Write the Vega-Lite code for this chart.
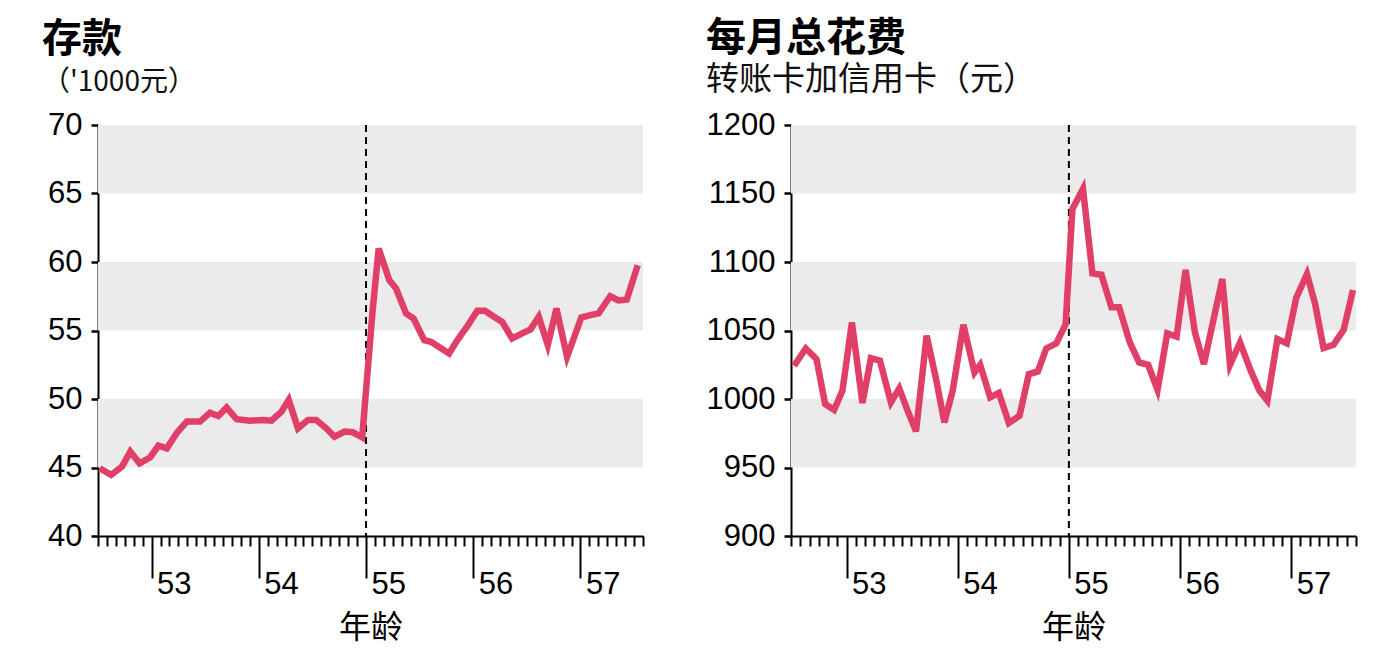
{
  "$schema": "https://vega.github.io/schema/vega-lite/v6.json",
  "background": "white",
  "padding": {"left": 42, "top": 19, "right": 5, "bottom": 5},
  "spacing": 55,
  "config": {
    "view": {"stroke": null},
    "font": "Liberation Sans",
    "axis": {
      "domainColor": "#000",
      "domainWidth": 2,
      "tickColor": "#000",
      "labelColor": "#000",
      "titleColor": "#000",
      "grid": false
    }
  },
  "datasets": {
    "savings": [
      {"age": 52.516, "value": 44.95}, {"age": 52.622, "value": 44.46}, {"age": 52.724, "value": 45.07},
      {"age": 52.801, "value": 46.16}, {"age": 52.888, "value": 45.31}, {"age": 52.987, "value": 45.75},
      {"age": 53.064, "value": 46.6}, {"age": 53.142, "value": 46.4}, {"age": 53.235, "value": 47.52},
      {"age": 53.328, "value": 48.35}, {"age": 53.452, "value": 48.35}, {"age": 53.545, "value": 49.0},
      {"age": 53.622, "value": 48.76}, {"age": 53.7, "value": 49.37}, {"age": 53.793, "value": 48.52},
      {"age": 53.916, "value": 48.42}, {"age": 54.04, "value": 48.47}, {"age": 54.118, "value": 48.42},
      {"age": 54.211, "value": 49.07}, {"age": 54.279, "value": 49.93}, {"age": 54.365, "value": 47.86},
      {"age": 54.458, "value": 48.47}, {"age": 54.536, "value": 48.47}, {"age": 54.629, "value": 47.86},
      {"age": 54.706, "value": 47.25}, {"age": 54.799, "value": 47.62}, {"age": 54.877, "value": 47.57},
      {"age": 54.964, "value": 47.2}, {"age": 55.062, "value": 56.5}, {"age": 55.118, "value": 60.98},
      {"age": 55.217, "value": 58.67}, {"age": 55.28, "value": 58.07}, {"age": 55.373, "value": 56.25},
      {"age": 55.443, "value": 55.88}, {"age": 55.543, "value": 54.3}, {"age": 55.605, "value": 54.18},
      {"age": 55.775, "value": 53.33}, {"age": 55.852, "value": 54.3}, {"age": 55.945, "value": 55.32},
      {"age": 56.038, "value": 56.44}, {"age": 56.109, "value": 56.44}, {"age": 56.193, "value": 56.0},
      {"age": 56.27, "value": 55.63}, {"age": 56.363, "value": 54.42}, {"age": 56.456, "value": 54.79},
      {"age": 56.534, "value": 55.08}, {"age": 56.611, "value": 56.0}, {"age": 56.695, "value": 53.94},
      {"age": 56.776, "value": 56.61}, {"age": 56.875, "value": 53.08}, {"age": 57.008, "value": 55.95},
      {"age": 57.092, "value": 56.12}, {"age": 57.169, "value": 56.25}, {"age": 57.278, "value": 57.5},
      {"age": 57.355, "value": 57.2}, {"age": 57.432, "value": 57.27}, {"age": 57.534, "value": 59.77}
    ],
    "spending": [
      {"age": 52.528, "value": 1024.3}, {"age": 52.633, "value": 1036.9}, {"age": 52.729, "value": 1029.2},
      {"age": 52.807, "value": 996.4}, {"age": 52.888, "value": 992.0}, {"age": 52.963, "value": 1006.1},
      {"age": 53.048, "value": 1055.9}, {"age": 53.143, "value": 997.1}, {"age": 53.219, "value": 1029.9},
      {"age": 53.3, "value": 1028.0}, {"age": 53.399, "value": 997.5}, {"age": 53.474, "value": 1007.7},
      {"age": 53.549, "value": 991.5}, {"age": 53.625, "value": 976.4}, {"age": 53.72, "value": 1046.2},
      {"age": 53.805, "value": 1014.6}, {"age": 53.88, "value": 982.9}, {"age": 53.955, "value": 1006.1},
      {"age": 54.051, "value": 1054.2}, {"age": 54.151, "value": 1019.4}, {"age": 54.202, "value": 1025.0},
      {"age": 54.292, "value": 1001.2}, {"age": 54.37, "value": 1004.4}, {"age": 54.46, "value": 982.5},
      {"age": 54.556, "value": 987.8}, {"age": 54.64, "value": 1018.2}, {"age": 54.721, "value": 1020.1},
      {"age": 54.797, "value": 1036.9}, {"age": 54.887, "value": 1040.6}, {"age": 54.971, "value": 1054.7},
      {"age": 55.032, "value": 1138.7}, {"age": 55.127, "value": 1153.3}, {"age": 55.212, "value": 1091.7},
      {"age": 55.293, "value": 1090.7}, {"age": 55.383, "value": 1066.9}, {"age": 55.452, "value": 1066.9},
      {"age": 55.548, "value": 1041.3}, {"age": 55.632, "value": 1026.7}, {"age": 55.713, "value": 1025.0},
      {"age": 55.798, "value": 1006.6}, {"age": 55.885, "value": 1047.9}, {"age": 55.969, "value": 1045.5},
      {"age": 56.05, "value": 1094.2}, {"age": 56.134, "value": 1048.6}, {"age": 56.215, "value": 1025.5},
      {"age": 56.299, "value": 1057.2}, {"age": 56.381, "value": 1087.6}, {"age": 56.45, "value": 1025.0},
      {"age": 56.54, "value": 1041.3}, {"age": 56.63, "value": 1021.9}, {"age": 56.714, "value": 1006.1},
      {"age": 56.786, "value": 998.8}, {"age": 56.876, "value": 1043.8}, {"age": 56.961, "value": 1040.6},
      {"age": 57.045, "value": 1073.7}, {"age": 57.142, "value": 1091.2}, {"age": 57.216, "value": 1069.3},
      {"age": 57.291, "value": 1037.2}, {"age": 57.381, "value": 1039.6}, {"age": 57.472, "value": 1050.4},
      {"age": 57.556, "value": 1079.6}
    ],
    "bandsL": [{"lo": 45, "hi": 50}, {"lo": 55, "hi": 60}, {"lo": 65, "hi": 70}],
    "bandsR": [{"lo": 950, "hi": 1000}, {"lo": 1050, "hi": 1100}, {"lo": 1150, "hi": 1200}],
    "retire": [{"age": 55}]
  },
  "hconcat": [
    {
      "title": {
        "text": "存款",
        "subtitle": "（'1000元）",
        "anchor": "start",
        "frame": "bounds",
        "font": "Noto Sans CJK SC",
        "fontSize": 40,
        "fontWeight": "bold",
        "color": "#000",
        "subtitleFont": "Noto Sans CJK SC",
        "subtitleFontSize": 28,
        "subtitleColor": "#111",
        "subtitlePadding": 9,
        "offset": 12
      },
      "width": 545,
      "height": 411,
      "layer": [
        {
          "data": {"name": "bandsL"},
          "mark": {"type": "rect", "color": "#ebebeb"},
          "encoding": {
            "y": {
              "field": "lo", "type": "quantitative",
              "scale": {"domain": [40, 70], "nice": false, "zero": false},
              "axis": {
                "title": null,
                "values": [40, 45, 50, 55, 60, 65, 70],
                "format": "d",
                "tickSize": 7,
                "tickWidth": 2.5,
                "labelFontSize": 31,
                "labelPadding": 9,
                "minExtent": 56
              }
            },
            "y2": {"field": "hi"}
          }
        },
        {
          "data": {"name": "retire"},
          "mark": {"type": "rule", "color": "#000", "strokeWidth": 2, "strokeDash": [7, 5]},
          "encoding": {
            "x": {
              "field": "age", "type": "quantitative",
              "scale": {"domain": [52.5, 57.5833], "nice": false, "zero": false},
              "axis": {
                "title": "年龄",
                "titleFont": "Noto Sans CJK SC",
                "titleFontSize": 32,
                "titleFontWeight": "normal",
                "titlePadding": 13,
                "values": [52.5, 52.5833, 52.6667, 52.75, 52.8333, 52.9167,
                  53, 53.0833, 53.1667, 53.25, 53.3333, 53.4167, 53.5, 53.5833, 53.6667, 53.75, 53.8333, 53.9167,
                  54, 54.0833, 54.1667, 54.25, 54.3333, 54.4167, 54.5, 54.5833, 54.6667, 54.75, 54.8333, 54.9167,
                  55, 55.0833, 55.1667, 55.25, 55.3333, 55.4167, 55.5, 55.5833, 55.6667, 55.75, 55.8333, 55.9167,
                  56, 56.0833, 56.1667, 56.25, 56.3333, 56.4167, 56.5, 56.5833, 56.6667, 56.75, 56.8333, 56.9167,
                  57, 57.0833, 57.1667, 57.25, 57.3333, 57.4167, 57.5, 57.5833],
                "tickSize": {"condition": {"test": "datum.value % 1 === 0", "value": 42}, "value": 10},
                "tickWidth": 2,
                "labelExpr": "datum.value % 1 === 0 ? format(datum.value, 'd') : ''",
                "labelFontSize": 31,
                "labelAlign": "left",
                "labelBaseline": "top",
                "labelOffset": 5,
                "labelPadding": -9,
                "labelOverlap": false,
                "labelBound": false,
                "labelFlush": false
              }
            }
          }
        },
        {
          "data": {"name": "savings"},
          "mark": {"type": "line", "color": "#e03f68", "strokeWidth": 6.5, "strokeJoin": "miter"},
          "encoding": {
            "x": {
              "field": "age", "type": "quantitative",
              "scale": {"domain": [52.5, 57.5833], "nice": false, "zero": false},
              "axis": {
                "title": "年龄",
                "titleFont": "Noto Sans CJK SC",
                "titleFontSize": 32,
                "titleFontWeight": "normal",
                "titlePadding": 13,
                "values": [52.5, 52.5833, 52.6667, 52.75, 52.8333, 52.9167,
                  53, 53.0833, 53.1667, 53.25, 53.3333, 53.4167, 53.5, 53.5833, 53.6667, 53.75, 53.8333, 53.9167,
                  54, 54.0833, 54.1667, 54.25, 54.3333, 54.4167, 54.5, 54.5833, 54.6667, 54.75, 54.8333, 54.9167,
                  55, 55.0833, 55.1667, 55.25, 55.3333, 55.4167, 55.5, 55.5833, 55.6667, 55.75, 55.8333, 55.9167,
                  56, 56.0833, 56.1667, 56.25, 56.3333, 56.4167, 56.5, 56.5833, 56.6667, 56.75, 56.8333, 56.9167,
                  57, 57.0833, 57.1667, 57.25, 57.3333, 57.4167, 57.5, 57.5833],
                "tickSize": {"condition": {"test": "datum.value % 1 === 0", "value": 42}, "value": 10},
                "tickWidth": 2,
                "labelExpr": "datum.value % 1 === 0 ? format(datum.value, 'd') : ''",
                "labelFontSize": 31,
                "labelAlign": "left",
                "labelBaseline": "top",
                "labelOffset": 5,
                "labelPadding": -9,
                "labelOverlap": false,
                "labelBound": false,
                "labelFlush": false
              }
            },
            "y": {
              "field": "value", "type": "quantitative",
              "scale": {"domain": [40, 70], "nice": false, "zero": false},
              "axis": {
                "title": null,
                "values": [40, 45, 50, 55, 60, 65, 70],
                "format": "d",
                "tickSize": 7,
                "tickWidth": 2.5,
                "labelFontSize": 31,
                "labelPadding": 9,
                "minExtent": 56
              }
            }
          }
        }
      ]
    },
    {
      "title": {
        "text": "每月总花费",
        "subtitle": "转账卡加信用卡（元）",
        "anchor": "start",
        "frame": "bounds",
        "font": "Noto Sans CJK SC",
        "fontSize": 40,
        "fontWeight": "bold",
        "color": "#000",
        "subtitleFont": "Noto Sans CJK SC",
        "subtitleFontSize": 33,
        "subtitleColor": "#111",
        "subtitlePadding": 5,
        "offset": 12
      },
      "width": 565,
      "height": 411,
      "layer": [
        {
          "data": {"name": "bandsR"},
          "mark": {"type": "rect", "color": "#ebebeb"},
          "encoding": {
            "y": {
              "field": "lo", "type": "quantitative",
              "scale": {"domain": [900, 1200], "nice": false, "zero": false},
              "axis": {
                "title": null,
                "values": [900, 950, 1000, 1050, 1100, 1150, 1200],
                "format": "d",
                "tickSize": 7,
                "tickWidth": 2.5,
                "labelFontSize": 31,
                "labelPadding": 9
              }
            },
            "y2": {"field": "hi"}
          }
        },
        {
          "data": {"name": "retire"},
          "mark": {"type": "rule", "color": "#000", "strokeWidth": 2, "strokeDash": [7, 5]},
          "encoding": {
            "x": {
              "field": "age", "type": "quantitative",
              "scale": {"domain": [52.5, 57.5833], "nice": false, "zero": false},
              "axis": {
                "title": "年龄",
                "titleFont": "Noto Sans CJK SC",
                "titleFontSize": 32,
                "titleFontWeight": "normal",
                "titlePadding": 13,
                "values": [52.5, 52.5833, 52.6667, 52.75, 52.8333, 52.9167,
                  53, 53.0833, 53.1667, 53.25, 53.3333, 53.4167, 53.5, 53.5833, 53.6667, 53.75, 53.8333, 53.9167,
                  54, 54.0833, 54.1667, 54.25, 54.3333, 54.4167, 54.5, 54.5833, 54.6667, 54.75, 54.8333, 54.9167,
                  55, 55.0833, 55.1667, 55.25, 55.3333, 55.4167, 55.5, 55.5833, 55.6667, 55.75, 55.8333, 55.9167,
                  56, 56.0833, 56.1667, 56.25, 56.3333, 56.4167, 56.5, 56.5833, 56.6667, 56.75, 56.8333, 56.9167,
                  57, 57.0833, 57.1667, 57.25, 57.3333, 57.4167, 57.5, 57.5833],
                "tickSize": {"condition": {"test": "datum.value % 1 === 0", "value": 42}, "value": 10},
                "tickWidth": 2,
                "labelExpr": "datum.value % 1 === 0 ? format(datum.value, 'd') : ''",
                "labelFontSize": 31,
                "labelAlign": "left",
                "labelBaseline": "top",
                "labelOffset": 5,
                "labelPadding": -9,
                "labelOverlap": false,
                "labelBound": false,
                "labelFlush": false
              }
            }
          }
        },
        {
          "data": {"name": "spending"},
          "mark": {"type": "line", "color": "#e03f68", "strokeWidth": 6.5, "strokeJoin": "miter"},
          "encoding": {
            "x": {
              "field": "age", "type": "quantitative",
              "scale": {"domain": [52.5, 57.5833], "nice": false, "zero": false},
              "axis": {
                "title": "年龄",
                "titleFont": "Noto Sans CJK SC",
                "titleFontSize": 32,
                "titleFontWeight": "normal",
                "titlePadding": 13,
                "values": [52.5, 52.5833, 52.6667, 52.75, 52.8333, 52.9167,
                  53, 53.0833, 53.1667, 53.25, 53.3333, 53.4167, 53.5, 53.5833, 53.6667, 53.75, 53.8333, 53.9167,
                  54, 54.0833, 54.1667, 54.25, 54.3333, 54.4167, 54.5, 54.5833, 54.6667, 54.75, 54.8333, 54.9167,
                  55, 55.0833, 55.1667, 55.25, 55.3333, 55.4167, 55.5, 55.5833, 55.6667, 55.75, 55.8333, 55.9167,
                  56, 56.0833, 56.1667, 56.25, 56.3333, 56.4167, 56.5, 56.5833, 56.6667, 56.75, 56.8333, 56.9167,
                  57, 57.0833, 57.1667, 57.25, 57.3333, 57.4167, 57.5, 57.5833],
                "tickSize": {"condition": {"test": "datum.value % 1 === 0", "value": 42}, "value": 10},
                "tickWidth": 2,
                "labelExpr": "datum.value % 1 === 0 ? format(datum.value, 'd') : ''",
                "labelFontSize": 31,
                "labelAlign": "left",
                "labelBaseline": "top",
                "labelOffset": 5,
                "labelPadding": -9,
                "labelOverlap": false,
                "labelBound": false,
                "labelFlush": false
              }
            },
            "y": {
              "field": "value", "type": "quantitative",
              "scale": {"domain": [900, 1200], "nice": false, "zero": false},
              "axis": {
                "title": null,
                "values": [900, 950, 1000, 1050, 1100, 1150, 1200],
                "format": "d",
                "tickSize": 7,
                "tickWidth": 2.5,
                "labelFontSize": 31,
                "labelPadding": 9
              }
            }
          }
        }
      ]
    }
  ]
}
